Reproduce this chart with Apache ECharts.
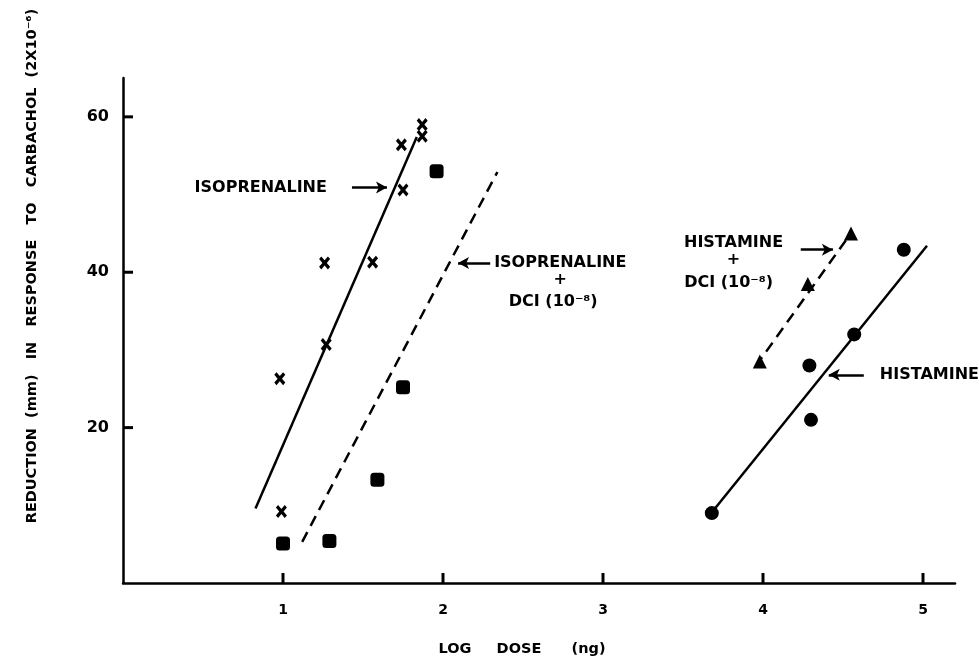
<!DOCTYPE html>
<html>
<head>
<meta charset="utf-8">
<script src="https://cdn.jsdelivr.net/npm/echarts@6/dist/echarts.min.js"></script>
<style>
html, body { margin: 0; padding: 0; background: #fff; }
#chart { width: 979px; height: 659px; }
</style>
</head>
<body>
<div id="chart"></div>
<script>
// tick labels
const xTicks = [1, 2, 3, 4, 5];
const yTicks = [20, 40, 60];

// isoprenaline alone (x marks)
const isoPoints = [[0.99, 9.2], [0.98, 26.3], [1.27, 30.7], [1.26, 41.2], [1.56, 41.3],
    [1.75, 50.6], [1.74, 56.4], [1.87, 59.0], [1.87, 57.5]];
// isoprenaline + DCI (squares)
const isoDciPoints = [[1.0, 5.1], [1.29, 5.4], [1.59, 13.3], [1.75, 25.2], [1.96, 53.0]];
// histamine alone (dots)
const histPoints = [[3.68, 9.0], [4.30, 21.0], [4.29, 28.0], [4.57, 32.0], [4.88, 42.9]];
// histamine + DCI (triangles)
const histDciPoints = [[3.98, 28.5], [4.28, 38.5], [4.55, 45.0]];

// drawn regression lines (end points)
const isoFit = [[0.828, 9.6], [1.836, 57.4]];
const isoDciFit = [[1.12, 5.3], [2.34, 52.9]];
const histFit = [[3.677, 9.0], [5.025, 43.4]];
const histDciFit = [[3.954, 27.9], [4.528, 44.4]];

// annotation texts and arrows
const notes = [
    { name: 'ISOPRENALINE', value: [0.861, 50.9] },
    { name: 'ISOPRENALINE', value: [2.733, 41.2] },
    { name: '+', value: [2.733, 39.0] },
    { name: 'DCI (10⁻⁸)', value: [2.689, 36.2] },
    { name: 'HISTAMINE', value: [3.816, 43.8] },
    { name: '+', value: [3.816, 41.6] },
    { name: 'DCI (10⁻⁸)', value: [3.785, 38.6] },
    { name: 'HISTAMINE', value: [5.04, 26.8] }
];
const arrows = [
    [[1.431, 50.9], [1.65, 50.9]],
    [[2.295, 41.2], [2.094, 41.2]],
    [[4.236, 42.9], [4.437, 42.9]],
    [[4.63, 26.8], [4.411, 26.8]]
];

const ink = '#000';
const font = 'DejaVu Sans';
const crossPath = 'path://M0,2L2,0L5,3L8,0L10,2L7,5L10,8L8,10L5,7L2,10L0,8L3,5Z';

function fitLine(data, dashed) {
    return {
        type: 'line',
        data: data,
        symbol: 'none',
        silent: true,
        lineStyle: { color: ink, width: 2.5, type: dashed ? [11, 7] : 'solid' },
        z: 2
    };
}

function marks(data, symbol, size) {
    return {
        type: 'scatter',
        data: data,
        symbol: symbol,
        symbolSize: size,
        itemStyle: { color: ink, opacity: 1 },
        z: 3
    };
}

function tickLabel(list) {
    return v => (list.indexOf(v) >= 0 ? String(v) : '');
}

const chart = echarts.init(document.getElementById('chart'));
chart.setOption({
    backgroundColor: '#fff',
    animation: false,
    grid: { left: 123, right: 24, top: 78, bottom: 76 },
    xAxis: {
        type: 'value',
        min: 0,
        max: 5.2,
        interval: 1,
        splitLine: { show: false },
        axisLine: { show: true, lineStyle: { color: ink, width: 2.5 } },
        axisTick: { show: false },
        axisLabel: {
            formatter: tickLabel(xTicks),
            margin: 20, color: ink, fontFamily: font, fontWeight: 'bold', fontSize: 14
        }
    },
    yAxis: {
        type: 'value',
        min: 0,
        max: 65,
        interval: 20,
        splitLine: { show: false },
        axisLine: { show: true, lineStyle: { color: ink, width: 2.5 } },
        axisTick: { show: false },
        axisLabel: {
            formatter: tickLabel(yTicks), margin: 14, color: ink,
            fontFamily: font, fontWeight: 'bold', fontSize: 16
        }
    },
    series: [
        fitLine(isoFit, false),
        fitLine(isoDciFit, true),
        fitLine(histFit, false),
        fitLine(histDciFit, true),
        marks(isoPoints, crossPath, [11, 13]),
        marks(isoDciPoints, 'roundRect', 14),
        marks(histPoints, 'circle', 14),
        marks(histDciPoints, 'triangle', 14),
        {
            type: 'scatter',
            data: notes,
            symbolSize: 0,
            silent: true,
            clip: false,
            itemStyle: { color: ink, opacity: 1 },
            label: {
                show: true,
                position: 'inside',
                formatter: '{b}',
                color: ink,
                fontFamily: font,
                fontWeight: 'bold',
                fontSize: 16
            },
            markLine: {
                silent: true,
                symbol: ['none', 'arrow'],
                symbolSize: [9, 11],
                label: { show: false },
                lineStyle: { color: ink, width: 2.5, type: 'solid', opacity: 1 },
                data: arrows.map(a => [{ coord: a[0] }, { coord: a[1] }])
            }
        }
    ]
});

// axis titles and inward tick marks (filled bars), placed through the chart's own scales
const tickLen = 10;
const tickW = 3;
const graphics = [
    {
        type: 'text',
        x: 32, y: 266, rotation: Math.PI / 2,
        style: {
            text: 'REDUCTION  (mm)   IN   RESPONSE   TO   CARBACHOL  (2X10⁻⁶)',
            fill: ink, font: 'bold 14.5px "DejaVu Sans"',
            align: 'center', verticalAlign: 'middle'
        }
    },
    {
        type: 'text',
        x: 522, y: 649,
        style: {
            text: 'LOG     DOSE      (ng)',
            fill: ink, font: 'bold 14.5px "DejaVu Sans"',
            align: 'center', verticalAlign: 'middle'
        }
    }
];
xTicks.forEach(v => {
    const p = chart.convertToPixel({ xAxisIndex: 0, yAxisIndex: 0 }, [v, 0]);
    graphics.push({
        type: 'rect', z: 100, silent: true,
        shape: { x: p[0] - tickW / 2, y: p[1] - tickLen, width: tickW, height: tickLen },
        style: { fill: ink }
    });
});
yTicks.forEach(v => {
    const p = chart.convertToPixel({ xAxisIndex: 0, yAxisIndex: 0 }, [0, v]);
    graphics.push({
        type: 'rect', z: 100, silent: true,
        shape: { x: p[0], y: p[1] - tickW / 2, width: tickLen, height: tickW },
        style: { fill: ink }
    });
});
chart.setOption({ graphic: graphics });
</script>
</body>
</html>
